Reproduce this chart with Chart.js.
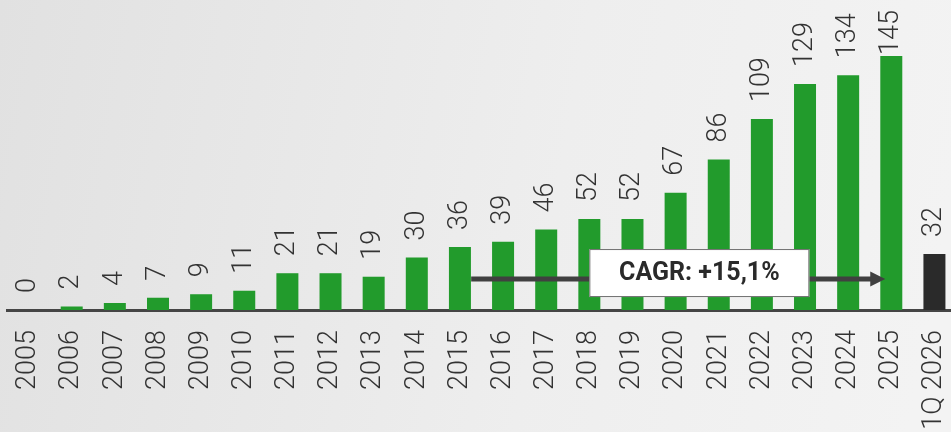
<!DOCTYPE html>
<html>
<head>
<meta charset="utf-8">
<script src="https://cdn.jsdelivr.net/npm/chart.js@4.4.1/dist/chart.umd.min.js"></script>
<style>
  html, body { margin: 0; padding: 0; overflow: hidden; background: #ececec; }
  #wrap { width: 956px; height: 432px; }
</style>
</head>
<body>
<div id="wrap"><canvas id="chart"></canvas></div>
<script>
const categories = ['2005', '2006', '2007', '2008', '2009', '2010', '2011', '2012', '2013', '2014',
  '2015', '2016', '2017', '2018', '2019', '2020', '2021', '2022', '2023', '2024', '2025', '1Q 2026'];
const values = [0, 2, 4, 7, 9, 11, 21, 21, 19, 30, 36, 39, 46, 52, 52, 67, 86, 109, 129, 134, 145, 32];
const partialYear = '1Q 2026';

const cagrLabel = 'CAGR: +15,1%';
const cagrFrom = '2015';
const cagrTo = '2025';

const green = '#229b2c';
const dark = '#2a2a2a';
const textColor = '#333333';
const fontFamily = 'Roboto, "Noto Sans", sans-serif';

const yMax = 177;

function barColor(label) {
  if (label === partialYear) {
    return dark;
  }
  return green;
}

const backgroundPlugin = {
  id: 'background',
  beforeDraw(chart) {
    const ctx = chart.ctx;
    const g = ctx.createLinearGradient(0, 0, chart.width, chart.height * 0.4);
    g.addColorStop(0, '#e1e1e1');
    g.addColorStop(0.6, '#eeeeee');
    g.addColorStop(1, '#f3f3f3');
    ctx.save();
    ctx.fillStyle = g;
    ctx.fillRect(0, 0, chart.width, chart.height);
    ctx.restore();
  }
};

const valueLabelPlugin = {
  id: 'valueLabels',
  afterDatasetsDraw(chart) {
    const ctx = chart.ctx;
    const meta = chart.getDatasetMeta(0);
    ctx.save();
    ctx.font = '300 27px ' + fontFamily;
    ctx.fillStyle = textColor;
    ctx.textAlign = 'left';
    ctx.textBaseline = 'middle';
    meta.data.forEach(function (bar, i) {
      const text = String(values[i]);
      const w = ctx.measureText(text).width;
      let y = bar.y - 17;
      if (y - w < 10) {
        y = 10 + w;
      }
      ctx.save();
      ctx.translate(bar.x, y);
      ctx.rotate(-Math.PI / 2);
      ctx.fillText(text, 0, 0);
      ctx.restore();
    });
    ctx.restore();
  }
};

const cagrPlugin = {
  id: 'cagr',
  afterDatasetsDraw(chart) {
    const ctx = chart.ctx;
    const xs = chart.scales.x;
    const ys = chart.scales.y;
    const i0 = categories.indexOf(cagrFrom);
    const i1 = categories.indexOf(cagrTo);
    const x0 = xs.getPixelForValue(i0 + 0.26);
    const x1 = xs.getPixelForValue(i1 - 0.14);
    const yA = ys.getPixelForValue(17.7);

    ctx.save();
    ctx.strokeStyle = '#404040';
    ctx.fillStyle = '#404040';
    ctx.lineWidth = 5;
    ctx.beginPath();
    ctx.moveTo(x0, yA);
    ctx.lineTo(x1 - 12, yA);
    ctx.stroke();
    ctx.beginPath();
    ctx.moveTo(x1, yA);
    ctx.lineTo(x1 - 15, yA - 7.5);
    ctx.lineTo(x1 - 15, yA + 7.5);
    ctx.closePath();
    ctx.fill();

    const bx0 = xs.getPixelForValue(13.0);
    const bx1 = xs.getPixelForValue(18.1);
    const by0 = ys.getPixelForValue(34.8);
    const by1 = ys.getPixelForValue(7.4);
    ctx.fillStyle = '#ffffff';
    ctx.fillRect(bx0, by0, bx1 - bx0, by1 - by0);
    ctx.strokeStyle = '#707070';
    ctx.lineWidth = 1;
    ctx.strokeRect(bx0 + 0.5, by0 + 0.5, bx1 - bx0 - 1, by1 - by0 - 1);

    ctx.fillStyle = '#2a2a2a';
    ctx.font = 'bold 25px ' + fontFamily;
    ctx.textAlign = 'center';
    ctx.textBaseline = 'middle';
    ctx.fillText(cagrLabel, (bx0 + bx1) / 2, (by0 + by1) / 2 + 1);
    ctx.restore();
  }
};

new Chart(document.getElementById('chart'), {
  type: 'bar',
  data: {
    labels: categories,
    datasets: [{
      data: values,
      backgroundColor: categories.map(barColor),
      borderWidth: 0,
      barPercentage: 0.51,
      categoryPercentage: 1
    }]
  },
  options: {
    responsive: true,
    maintainAspectRatio: false,
    animation: false,
    devicePixelRatio: 1,
    layout: { padding: { left: 7, right: 0, top: 0, bottom: 0 } },
    plugins: {
      legend: { display: false },
      tooltip: { enabled: false }
    },
    scales: {
      x: {
        grid: { display: false, drawTicks: false },
        border: { display: true, color: '#454545', width: 3 },
        ticks: {
          autoSkip: false,
          minRotation: 90,
          maxRotation: 90,
          padding: 20,
          color: textColor,
          font: { family: fontFamily, size: 27, weight: '300' }
        },
        afterFit(scale) {
          scale.height = 122;
          scale.paddingLeft = 0;
          scale.paddingRight = 0;
        }
      },
      y: {
        display: false,
        min: 0,
        max: yMax
      }
    }
  },
  plugins: [backgroundPlugin, valueLabelPlugin, cagrPlugin]
});
</script>
</body>
</html>
